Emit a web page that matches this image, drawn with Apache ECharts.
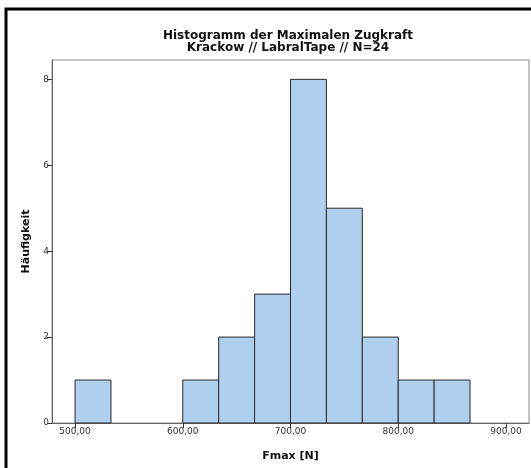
<!DOCTYPE html>
<html>
<head>
<meta charset="utf-8">
<script src="https://cdn.jsdelivr.net/npm/echarts@6/dist/echarts.min.js"></script>
<style>
html,body{margin:0;padding:0;background:#fff;}
#chart{width:531px;height:468px;}
</style>
</head>
<body>
<div id="chart"></div>
<script>
// Histogram data
var binStart = [500, 600, 633.33, 666.67, 700, 733.33, 766.67, 800, 833.33];
var binEnd   = [533.33, 633.33, 666.67, 700, 733.33, 766.67, 800, 833.33, 866.67];
var counts   = [1, 1, 2, 3, 8, 5, 2, 1, 1];
var xTicks = [500, 600, 700, 800, 900];
var yTicks = [0, 2, 4, 6, 8];
var titleLines = ['Histogramm der Maximalen Zugkraft', 'Krackow // LabralTape // N=24'];
var xName = 'Fmax [N]';
var yName = 'Häufigkeit';

var data = binStart.map(function (s, i) { return [s, binEnd[i], counts[i]]; });

var chart = echarts.init(document.getElementById('chart'), null, {renderer: 'canvas'});
var font = 'DejaVu Sans';
chart.setOption({
  animation: false,
  backgroundColor: '#fff',
  title: {
    text: titleLines.join('\n'),
    left: 283, top: 25, textAlign: 'center',
    textStyle: {fontFamily: font, fontWeight: 'bold', fontSize: 12, color: '#111', lineHeight: 12}
  },
  graphic: [{
    type: 'polyline',
    shape: {points: [[6, 480], [6, 9], [540, 9]]},
    style: {stroke: '#000', lineWidth: 3, fill: null}
  }],
  grid: {left: 52, top: 60, right: 2, bottom: 45, show: true, borderColor: '#8a8a8a', borderWidth: 1},
  xAxis: {
    type: 'value', min: 478.6, max: 921.4,
    name: xName, nameLocation: 'middle', nameGap: 28,
    nameTextStyle: {fontFamily: font, fontWeight: 'bold', fontSize: 11, color: '#111'},
    axisLine: {show: true, lineStyle: {color: '#666', width: 1}},
    axisTick: {show: true, customValues: xTicks, length: 5, lineStyle: {color: '#333'}},
    axisLabel: {customValues: xTicks, margin: 4, fontFamily: font, fontSize: 9, color: '#333',
      formatter: function (v) { return v.toFixed(2).replace('.', ','); }},
    splitLine: {show: false}
  },
  yAxis: {
    type: 'value', min: 0, max: 8.45,
    name: yName, nameLocation: 'middle', nameGap: 20,
    nameTextStyle: {fontFamily: font, fontWeight: 'bold', fontSize: 11, color: '#111'},
    axisLine: {show: true, lineStyle: {color: '#666', width: 1}},
    axisTick: {show: true, customValues: yTicks, length: 5, lineStyle: {color: '#333'}},
    axisLabel: {customValues: yTicks, margin: 3, fontFamily: font, fontSize: 9, color: '#333'},
    splitLine: {show: false}
  },
  series: [{
    type: 'custom',
    data: data,
    encode: {x: [0, 1], y: 2},
    renderItem: function (params, api) {
      var p0 = api.coord([api.value(0), 0]);
      var p1 = api.coord([api.value(1), api.value(2)]);
      return {
        type: 'rect',
        shape: {x: p0[0], y: p1[1], width: p1[0] - p0[0], height: p0[1] - p1[1]},
        style: {fill: '#aecfee', stroke: '#2b2b2b', lineWidth: 1}
      };
    }
  }]
});
</script>
</body>
</html>
